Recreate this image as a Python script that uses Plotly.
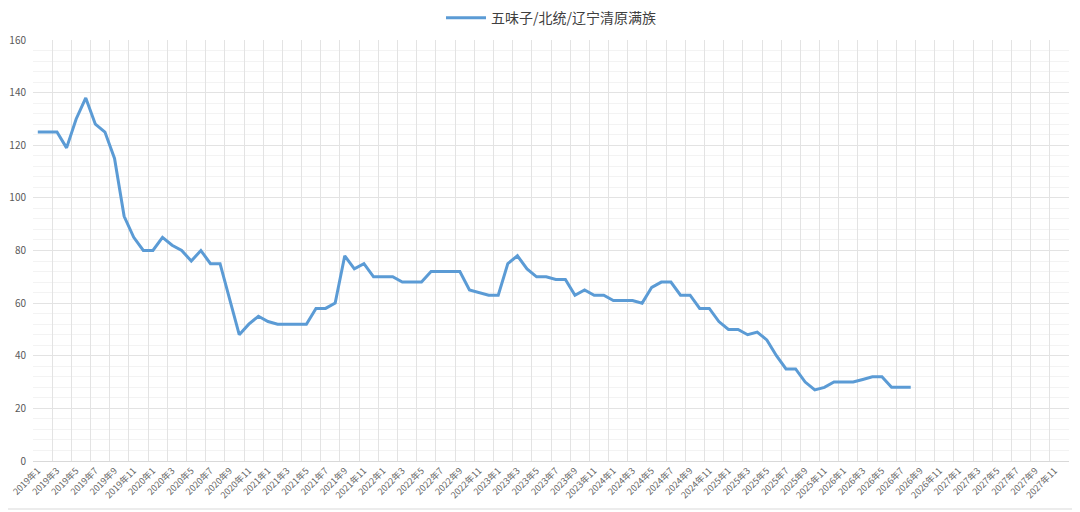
import plotly.graph_objects as go

# 月份类别 2019年1 ~ 2027年12
months = [f"{y}年{m}" for y in range(2019, 2028) for m in range(1, 13)]

# 价格（元/公斤），数据到 2026年8
prices = [
    125, 125, 125, 119, 130, 138, 128, 125, 115, 93, 85, 80,   # 2019
    80, 85, 82, 80, 76, 80, 75, 75, 61, 48, 52, 55,            # 2020
    53, 52, 52, 52, 52, 58, 58, 60, 78, 73, 75, 70,            # 2021
    70, 70, 68, 68, 68, 72, 72, 72, 72, 65, 64, 63,            # 2022
    63, 75, 78, 73, 70, 70, 69, 69, 63, 65, 63, 63,            # 2023
    61, 61, 61, 60, 66, 68, 68, 63, 63, 58, 58, 53,            # 2024
    50, 50, 48, 49, 46, 40, 35, 35, 30, 27, 28, 30,            # 2025
    30, 30, 31, 32, 32, 28, 28, 28,                            # 2026
]

series_name = "五味子/北统/辽宁清原满族"

font_family = "Noto Sans CJK SC, Microsoft YaHei, sans-serif"
grey_text = "#595959"

fig = go.Figure()
fig.add_trace(go.Scatter(
    x=months[:len(prices)],
    y=prices,
    mode="lines",
    name=series_name,
    line=dict(color="#5B9BD5", width=3),
))

# 页面 body 默认有 8px 边距，所以整体尺寸和边距都减去 8
fig.update_layout(
    width=1072,
    height=504,
    margin=dict(l=25, r=11, t=32, b=51, autoexpand=False),
    paper_bgcolor="white",
    plot_bgcolor="white",
    font=dict(family=font_family, size=10, color=grey_text),
    showlegend=True,
    legend=dict(
        orientation="h",
        x=0.5, xanchor="center",
        y=1.052, yanchor="middle",
        font=dict(size=14, color="#404040"),
        itemwidth=40,
    ),
)

fig.update_xaxes(
    type="category",
    categoryorder="array",
    categoryarray=months,
    range=[-0.5, len(months) - 0.5],
    tickmode="linear",
    tick0=0,
    dtick=2,
    tickson="boundaries",
    tickangle=-45,
    ticks="",
    automargin=False,
    showgrid=True,
    gridcolor="#E3E3E3",
    gridwidth=1,
    showline=True,
    linecolor="#D9D9D9",
    tickfont=dict(size=9, color="#666666"),
    fixedrange=True,
)

fig.update_yaxes(
    range=[0, 160],
    tickmode="linear",
    tick0=0,
    dtick=20,
    automargin=False,
    showgrid=True,
    gridcolor="#E3E3E3",
    gridwidth=1,
    zeroline=False,
    showline=False,
    ticks="",
    ticklabelstandoff=6,
    minor=dict(dtick=4, showgrid=True, gridcolor="#F3F3F3", gridwidth=1),
    tickfont=dict(size=10, color=grey_text),
)

# 外框
fig.add_shape(
    type="rect", xref="paper", yref="paper",
    x0=(2 - 33) / 1036, x1=(1077 - 33) / 1036,
    y0=(461 - 509) / 421, y1=(461 - 2) / 421,
    line=dict(color="#D9D9D9", width=1),
    layer="below",
)

fig.write_html("out.html")
